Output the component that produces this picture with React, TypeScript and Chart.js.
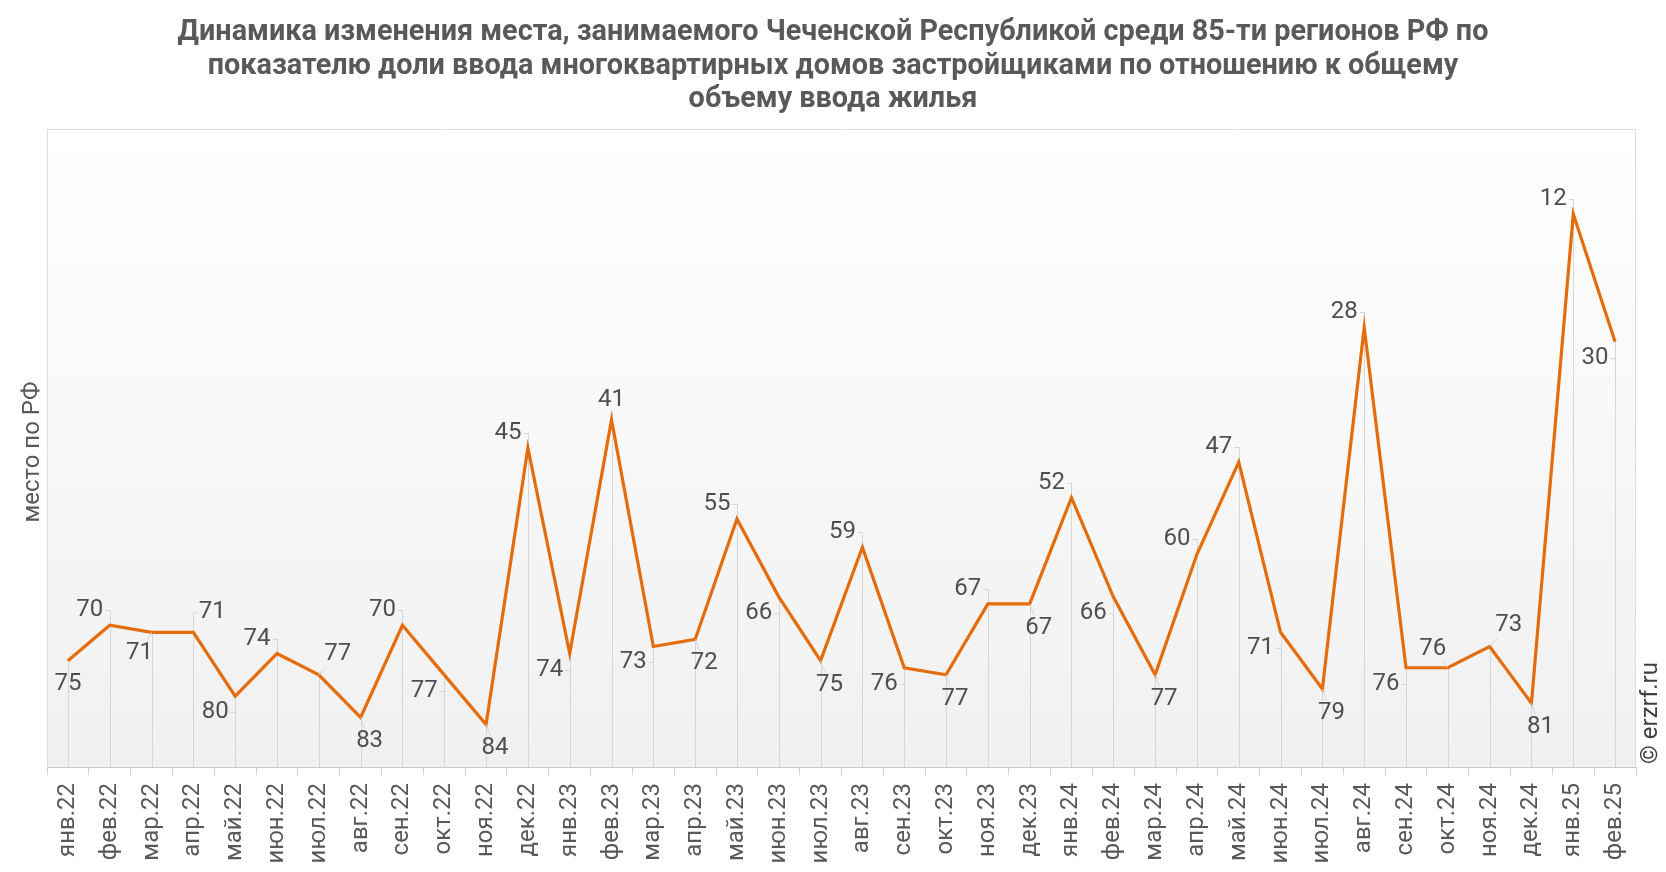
import React, { useEffect, useRef } from "react";
import { Chart, registerables } from "chart.js";

Chart.register(...registerables);

const titleLines = [
  "Динамика изменения места, занимаемого Чеченской Республикой среди 85-ти регионов РФ по",
  "показателю доли ввода многоквартирных домов застройщиками по отношению к общему",
  "объему ввода жилья",
];

const yAxisTitle = "место по РФ";
const watermark = "© erzrf.ru";

const categories = [
  "янв.22", "фев.22", "мар.22", "апр.22", "май.22", "июн.22", "июл.22", "авг.22", "сен.22", "окт.22", "ноя.22", "дек.22",
  "янв.23", "фев.23", "мар.23", "апр.23", "май.23", "июн.23", "июл.23", "авг.23", "сен.23", "окт.23", "ноя.23", "дек.23",
  "янв.24", "фев.24", "мар.24", "апр.24", "май.24", "июн.24", "июл.24", "авг.24", "сен.24", "окт.24", "ноя.24", "дек.24",
  "янв.25", "фев.25",
];

const places = [
  75, 70, 71, 71, 80, 74, 77, 83, 70, 77, 84, 45,
  74, 41, 73, 72, 55, 66, 75, 59, 76, 77, 67, 67,
  52, 66, 77, 60, 47, 71, 79, 28, 76, 76, 73, 81,
  12, 30,
];

// label placement codes relative to each point
const labelPlacement = [
  "b", "tl", "bld", "trs", "bl", "tl", "tr", "br", "tl", "bl", "br", "tl",
  "bl", "t", "bl", "br", "tl", "bl", "br", "tl", "bl", "br", "tl", "br",
  "tl", "bl", "br", "tl", "tl", "bl", "br", "tl", "bl", "tld", "tr", "br",
  "tl", "bl",
];

const placementDefs: Record<string, { dx: number; dy: number; leader: string }> = {
  b: { dx: 0, dy: 23, leader: "none" },
  t: { dx: 0, dy: -20, leader: "up" },
  tl: { dx: -20, dy: -15, leader: "stubUp" },
  bl: { dx: -20, dy: 16, leader: "stub" },
  bld: { dx: -12, dy: 21, leader: "diag" },
  trs: { dx: 19, dy: -20, leader: "stubUp" },
  tr: { dx: 19, dy: -21, leader: "diag" },
  br: { dx: 9, dy: 24, leader: "diag" },
  tld: { dx: -15, dy: -19, leader: "diag" },
};

const LINE_COLOR = "#E46C0A";
const GUIDE_COLOR = "#d6d6d6";
const TEXT_COLOR = "#595959";
const LABEL_COLOR = "#4d4f52";

const decorPlugin = {
  id: "decor",
  beforeDraw(chart: any) {
    const { ctx, chartArea: a } = chart;
    ctx.save();
    const g = ctx.createLinearGradient(0, a.top, 0, a.bottom);
    g.addColorStop(0, "#ffffff");
    g.addColorStop(1, "#f0f0f0");
    ctx.fillStyle = g;
    ctx.fillRect(a.left, a.top, a.right - a.left, a.bottom - a.top);
    ctx.strokeStyle = "#dedede";
    ctx.lineWidth = 1;
    ctx.beginPath();
    ctx.moveTo(a.left + 0.5, a.bottom);
    ctx.lineTo(a.left + 0.5, a.top + 0.5);
    ctx.lineTo(a.right - 0.5, a.top + 0.5);
    ctx.lineTo(a.right - 0.5, a.bottom);
    ctx.stroke();
    ctx.restore();
  },
  beforeDatasetsDraw(chart: any) {
    const { ctx, chartArea: a } = chart;
    const meta = chart.getDatasetMeta(0);
    ctx.save();
    ctx.strokeStyle = GUIDE_COLOR;
    ctx.lineWidth = 1;
    meta.data.forEach((pt: any, i: number) => {
      const def = placementDefs[labelPlacement[i]] || placementDefs.b;
      const x = Math.round(pt.x) + 0.5;
      let top = pt.y;
      const cy = pt.y + def.dy;
      if (def.leader === "stubUp") top = cy;
      if (def.leader === "up") top = cy + 11;
      ctx.beginPath();
      ctx.moveTo(x, top);
      ctx.lineTo(x, a.bottom);
      ctx.stroke();
    });
    ctx.restore();
  },
  afterDatasetsDraw(chart: any) {
    const { ctx } = chart;
    const meta = chart.getDatasetMeta(0);
    ctx.save();
    ctx.font = "24px Roboto";
    ctx.textAlign = "center";
    ctx.textBaseline = "middle";
    meta.data.forEach((pt: any, i: number) => {
      const def = placementDefs[labelPlacement[i]] || placementDefs.b;
      const text = String(places[i]);
      const cx = pt.x + def.dx;
      const cy = pt.y + def.dy;
      const w = ctx.measureText(text).width;
      const h = 17;
      ctx.strokeStyle = GUIDE_COLOR;
      ctx.lineWidth = 1;
      const px = Math.round(pt.x) + 0.5;
      if (def.leader === "stub" || def.leader === "stubUp") {
        const ly = Math.round(cy) + 0.5;
        const edge = def.dx < 0 ? cx + w / 2 + 2 : cx - w / 2 - 2;
        ctx.beginPath();
        ctx.moveTo(edge, ly);
        ctx.lineTo(px, ly);
        ctx.stroke();
      } else if (def.leader === "diag") {
        const hw = w / 2 + 3;
        const hh = h / 2 + 4;
        const vx = cx - pt.x;
        const vy = cy - pt.y;
        const tx = Math.abs(vx) > 0 ? (Math.abs(vx) - hw) / Math.abs(vx) : 0;
        const ty = Math.abs(vy) > 0 ? (Math.abs(vy) - hh) / Math.abs(vy) : 0;
        const t = Math.max(0, Math.max(tx, ty));
        ctx.beginPath();
        ctx.moveTo(pt.x, pt.y);
        ctx.lineTo(pt.x + vx * t, pt.y + vy * t);
        ctx.stroke();
      }
      ctx.fillStyle = LABEL_COLOR;
      ctx.fillText(text, cx, cy);
    });
    ctx.restore();
  },
  afterDraw(chart: any) {
    const { ctx, chartArea: a, width } = chart;
    ctx.save();
    ctx.fillStyle = TEXT_COLOR;
    ctx.textAlign = "center";
    ctx.textBaseline = "middle";
    ctx.font = "bold 28.8px Roboto";
    const ys = [33, 67, 100];
    titleLines.forEach((line, i) => ctx.fillText(line, width / 2, ys[i]));

    ctx.font = "24px Roboto";
    ctx.save();
    ctx.translate(33, (a.top + a.bottom) / 2 + 4);
    ctx.rotate(-Math.PI / 2);
    ctx.fillText(yAxisTitle, 0, 0);
    ctx.restore();

    ctx.save();
    ctx.fillStyle = "#3f3f3f";
    ctx.font = "24px Roboto";
    ctx.textAlign = "left";
    ctx.translate(1651, a.bottom - 3);
    ctx.rotate(-Math.PI / 2);
    ctx.fillText(watermark, 0, 0);
    ctx.restore();
    ctx.restore();
  },
};

export default function App() {
  const ref = useRef<HTMLCanvasElement | null>(null);
  useEffect(() => {
    if (!ref.current) return;
    const chart = new Chart(ref.current, {
      type: "line",
      data: {
        labels: categories,
        datasets: [
          {
            data: places,
            borderColor: LINE_COLOR,
            borderWidth: 3.2,
            pointRadius: 0,
            pointHoverRadius: 0,
            tension: 0,
            fill: false,
          },
        ],
      },
      options: {
        animation: false,
        responsive: false,
        devicePixelRatio: 1,
        layout: { padding: { top: 129, left: 47, right: 30, bottom: 0 } },
        plugins: {
          legend: { display: false },
          title: { display: false },
          tooltip: { enabled: false },
        },
        scales: {
          x: {
            type: "category",
            offset: true,
            grid: {
              display: true,
              drawOnChartArea: false,
              drawTicks: true,
              tickLength: 8,
              color: "#d0d0d0",
              offset: true,
            },
            border: { display: true, color: "#c8c8c8", width: 1 },
            ticks: {
              autoSkip: false,
              maxRotation: 90,
              minRotation: 90,
              padding: 8,
              color: TEXT_COLOR,
              font: { family: "Roboto", size: 24 },
            },
            afterFit: (s: any) => {
              s.height = 105;
            },
          },
          y: {
            display: false,
            reverse: true,
            min: 0,
            max: 90,
          },
        },
      },
      plugins: [decorPlugin],
    });
    return () => chart.destroy();
  }, []);
  return (
    <div style={{ position: "absolute", left: 0, top: 0, width: 1666, height: 872, background: "#fff" }}>
      <canvas ref={ref} width={1666} height={872} style={{ display: "block" }} />
    </div>
  );
}
